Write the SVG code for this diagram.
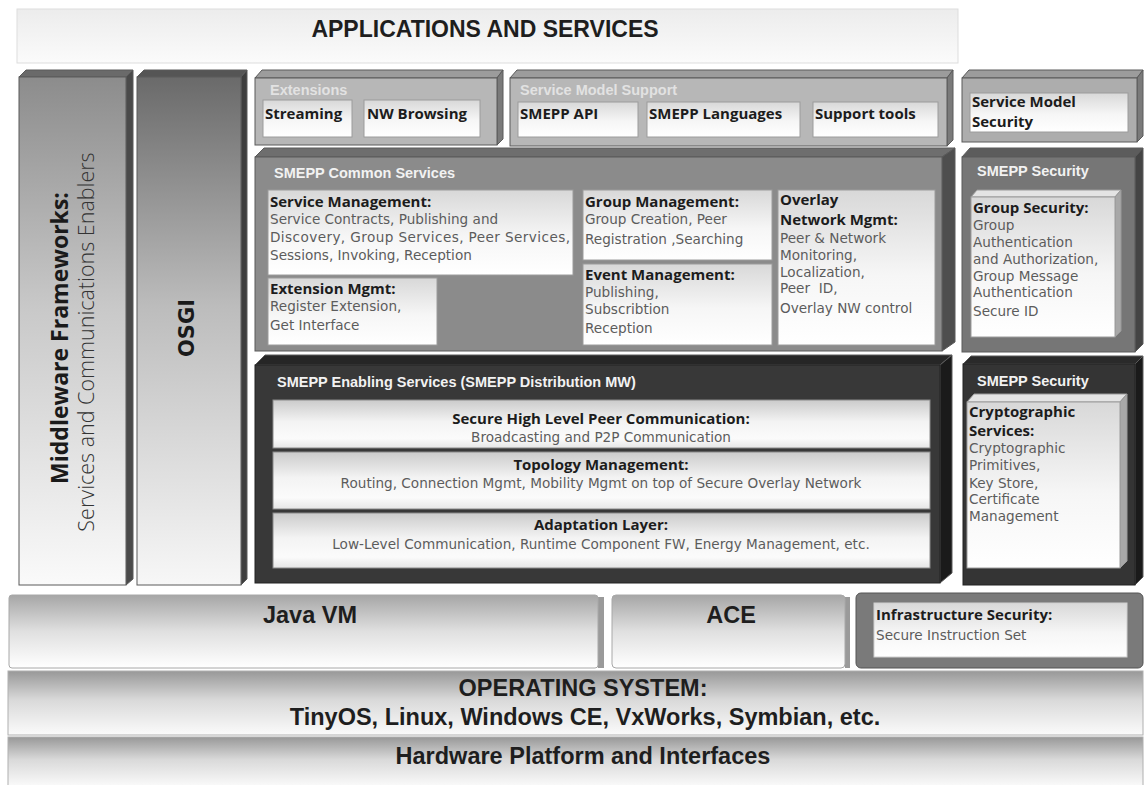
<svg xmlns="http://www.w3.org/2000/svg" width="1145" height="785" viewBox="0 0 1145 785">
<defs>
<linearGradient id="gApp" x1="0" y1="0" x2="0" y2="1"><stop offset="0" stop-color="#ececec"/><stop offset="1" stop-color="#fbfbfb"/></linearGradient>
<linearGradient id="gMid" x1="0" y1="0" x2="0" y2="1"><stop offset="0" stop-color="#8c8c8c"/><stop offset="0.45" stop-color="#c8c8c8"/><stop offset="1" stop-color="#fafafa"/></linearGradient>
<linearGradient id="gOsgi" x1="0" y1="0" x2="0" y2="1"><stop offset="0" stop-color="#6a6a6a"/><stop offset="0.45" stop-color="#bcbcbc"/><stop offset="1" stop-color="#f7f7f7"/></linearGradient>
<linearGradient id="gInner" x1="0" y1="0" x2="0" y2="1"><stop offset="0" stop-color="#d8d8d8"/><stop offset="0.55" stop-color="#f6f6f6"/><stop offset="1" stop-color="#ffffff"/></linearGradient>
<linearGradient id="gBar" x1="0" y1="0" x2="0" y2="1"><stop offset="0" stop-color="#cbcbcb"/><stop offset="0.45" stop-color="#f3f3f3"/><stop offset="0.8" stop-color="#fbfbfb"/><stop offset="1" stop-color="#e6e6e6"/></linearGradient>
<linearGradient id="gBase" x1="0" y1="0" x2="0" y2="1"><stop offset="0" stop-color="#a6a6a6"/><stop offset="0.5" stop-color="#e0e0e0"/><stop offset="1" stop-color="#ffffff"/></linearGradient>
<linearGradient id="gOS" x1="0" y1="0" x2="0" y2="1"><stop offset="0" stop-color="#989898"/><stop offset="0.45" stop-color="#d9d9d9"/><stop offset="1" stop-color="#fbfbfb"/></linearGradient>
</defs>
<style>
.edge{stroke:#5a5a5a;stroke-width:1}
.ledge{stroke:#9a9a9a;stroke-width:1}
.wt{font-family:"Liberation Sans",Arial,sans-serif;font-weight:700;font-size:14.5px;fill:#f2f2f2}
.lt{font-family:"Liberation Sans",Arial,sans-serif;font-weight:700;font-size:14.5px;fill:#e2e2e2}
.ti{font-family:"Open Sans","DejaVu Sans",sans-serif;font-weight:700;font-size:15px;fill:#1c1c1c}
.ds{font-family:"DejaVu Sans",sans-serif;font-size:13.6px;fill:#5c5c5c}
.big{font-family:"Liberation Sans",Arial,sans-serif;font-weight:700;font-size:23.5px;fill:#1e1e1e}
.ctr{text-anchor:middle}
.inner{fill:url(#gInner);stroke:#9c9c9c;stroke-width:1}
.bar{fill:url(#gBar);stroke:#8a8a8a;stroke-width:1}
</style>

<rect width="1145" height="785" fill="#ffffff"/>

<g id="applications">
<rect x="17" y="9" width="941" height="54" fill="url(#gApp)" stroke="#dddddd"/>
<text class="big ctr" x="485" y="37" style="font-size:23px">APPLICATIONS AND SERVICES</text>
</g>

<g id="middleware">
<polygon points="19,77 26,70 133,70 126,77" fill="#6a6a6a" class="edge"/>
<polygon points="126,77 133,70 133,579 126,585" fill="#4a4a4a" class="edge"/>
<rect x="19" y="77" width="107" height="508" fill="url(#gMid)" class="edge"/>
<text transform="translate(68,338) rotate(-90)" class="ctr" font-family="Open Sans, DejaVu Sans, sans-serif" font-weight="700" font-size="23px" fill="#1a1a1a">Middleware Frameworks:</text>
<text transform="translate(94,342) rotate(-90)" class="ctr" font-family="Open Sans, DejaVu Sans, sans-serif" font-weight="300" font-size="21.5px" fill="#333333">Services and Communications Enablers</text>
</g>

<g id="osgi">
<polygon points="137,77 144,70 247,70 241,77" fill="#555555" class="edge"/>
<polygon points="241,77 247,70 247,579 241,585" fill="#3e3e3e" class="edge"/>
<rect x="137" y="77" width="104" height="508" fill="url(#gOsgi)" class="edge"/>
<text transform="translate(194,328) rotate(-90)" class="ctr" font-family="DejaVu Sans, sans-serif" font-weight="700" font-size="21px" fill="#1a1a1a">OSGI</text>
</g>

<g id="extensions">
<polygon points="255,78 262,70 503,70 497,78" fill="#9c9c9c" class="edge"/>
<polygon points="497,78 503,70 503,139 497,145" fill="#7a7a7a" class="edge"/>
<rect x="255" y="78" width="242" height="67" fill="#b7b7b7" class="edge"/>
<text class="lt" x="270" y="95">Extensions</text>
<rect x="263" y="100" width="89" height="37" class="inner"/>
<text class="ti" x="265" y="119">Streaming</text>
<rect x="364" y="100" width="116" height="37" class="inner"/>
<text class="ti" x="367" y="119">NW Browsing</text>
</g>

<g id="service-model-support">
<polygon points="510,78 517,70 953,70 947,78" fill="#9c9c9c" class="edge"/>
<polygon points="947,78 953,70 953,140 947,146" fill="#7a7a7a" class="edge"/>
<rect x="510" y="78" width="437" height="68" fill="#b7b7b7" class="edge"/>
<text class="lt" x="520" y="95">Service Model Support</text>
<rect x="518" y="102" width="120" height="35" class="inner"/>
<text class="ti" x="520" y="119">SMEPP API</text>
<rect x="647" y="102" width="153" height="35" class="inner"/>
<text class="ti" x="649" y="119">SMEPP Languages</text>
<rect x="813" y="102" width="125" height="35" class="inner"/>
<text class="ti" x="815" y="119">Support tools</text>
</g>

<g id="service-model-security">
<polygon points="962,78 969,70 1143,70 1137,78" fill="#9c9c9c" class="edge"/>
<polygon points="1137,78 1143,70 1143,136 1137,142" fill="#7a7a7a" class="edge"/>
<rect x="962" y="78" width="175" height="64" fill="#adadad" class="edge"/>
<rect x="970" y="93" width="158" height="39" class="inner" stroke="none"/>
<text class="ti" x="972" y="107">Service Model</text>
<text class="ti" x="972" y="127">Security</text>
</g>

<g id="common-services">
<polygon points="255,157 264,148 955,148 942,157" fill="#6e6e6e" class="edge"/>
<polygon points="942,157 955,148 955,342 942,351" fill="#4e4e4e" class="edge"/>
<rect x="255" y="157" width="687" height="194" fill="#8b8b8b" class="edge"/>
<text class="wt" x="274" y="178">SMEPP Common Services</text>
</g>

<g id="service-management">
<rect x="268" y="190" width="305" height="85" class="inner"/>
<text class="ti" x="270" y="207">Service Management:</text>
<text class="ds" x="270" y="224">Service Contracts, Publishing and</text>
<text class="ds" x="270" y="242" textLength="300" lengthAdjust="spacing">Discovery, Group Services, Peer Services,</text>
<text class="ds" x="270" y="260">Sessions, Invoking, Reception</text>
</g>

<g id="extension-mgmt">
<rect x="268" y="278" width="169" height="67" class="inner"/>
<text class="ti" x="270" y="294">Extension Mgmt:</text>
<text class="ds" x="270" y="311">Register Extension,</text>
<text class="ds" x="270" y="330">Get Interface</text>
</g>

<g id="group-management">
<rect x="583" y="190" width="189" height="70" class="inner"/>
<text class="ti" x="585" y="207">Group Management:</text>
<text class="ds" x="585" y="224">Group Creation, Peer</text>
<text class="ds" x="585" y="244">Registration ,Searching</text>
</g>

<g id="event-management">
<rect x="583" y="264" width="189" height="81" class="inner"/>
<text class="ti" x="585" y="280">Event Management:</text>
<text class="ds" x="585" y="297">Publishing,</text>
<text class="ds" x="585" y="314">Subscribtion</text>
<text class="ds" x="585" y="333">Reception</text>
</g>

<g id="overlay-network-mgmt">
<rect x="778" y="190" width="157" height="155" class="inner"/>
<text class="ti" x="780" y="205">Overlay</text>
<text class="ti" x="780" y="225">Network Mgmt:</text>
<text class="ds" x="780" y="243">Peer &amp; Network</text>
<text class="ds" x="780" y="260">Monitoring,</text>
<text class="ds" x="780" y="277">Localization,</text>
<text class="ds" x="780" y="293" xml:space="preserve">Peer  ID,</text>
<text class="ds" x="780" y="313">Overlay NW control</text>
</g>

<g id="smepp-security-groups">
<polygon points="962,157 970,148 1143,148 1135,157" fill="#5c5c5c" class="edge"/>
<polygon points="1135,157 1143,148 1143,344 1135,352" fill="#444444" class="edge"/>
<rect x="962" y="157" width="173" height="195" fill="#767676" class="edge"/>
<text class="wt" x="977" y="176">SMEPP Security</text>
<polygon points="971,197 977,190 1121,190 1115,197" fill="#e4e4e4" class="ledge"/>
<polygon points="1115,197 1121,190 1121,331 1115,337" fill="#a8a8a8" class="ledge"/>
<rect x="971" y="197" width="144" height="140" class="inner"/>
<text class="ti" x="973" y="213">Group Security:</text>
<text class="ds" x="973" y="230">Group</text>
<text class="ds" x="973" y="247">Authentication</text>
<text class="ds" x="973" y="264">and Authorization,</text>
<text class="ds" x="973" y="281">Group Message</text>
<text class="ds" x="973" y="297">Authentication</text>
<text class="ds" x="973" y="316">Secure ID</text>
</g>

<g id="enabling-services">
<polygon points="255,365 265,355 952,355 940,365" fill="#262626" class="edge"/>
<polygon points="940,365 952,355 952,573 940,583" fill="#1a1a1a" class="edge"/>
<rect x="255" y="365" width="685" height="218" fill="#383838" stroke="#222"/>
<text class="wt" x="277" y="387">SMEPP Enabling Services (SMEPP Distribution MW)</text>
</g>

<g id="secure-peer-communication">
<rect x="273" y="400" width="657" height="48" class="bar"/>
<text class="ti ctr" x="601" y="424">Secure High Level Peer Communication:</text>
<text class="ds ctr" x="601" y="442">Broadcasting and P2P Communication</text>
</g>

<g id="topology-management">
<rect x="273" y="452" width="657" height="57" class="bar"/>
<text class="ti ctr" x="601" y="470">Topology Management:</text>
<text class="ds ctr" x="601" y="488">Routing, Connection Mgmt, Mobility Mgmt on top of Secure Overlay Network</text>
</g>

<g id="adaptation-layer">
<rect x="273" y="513" width="657" height="55" class="bar"/>
<text class="ti ctr" x="601" y="530">Adaptation Layer:</text>
<text class="ds ctr" x="601" y="549">Low-Level Communication, Runtime Component FW, Energy Management, etc.</text>
</g>

<g id="smepp-security-crypto">
<polygon points="963,364 971,356 1143,356 1135,364" fill="#2a2a2a" class="edge"/>
<polygon points="1135,364 1143,356 1143,577 1135,585" fill="#1a1a1a" class="edge"/>
<rect x="963" y="364" width="172" height="221" fill="#343434" stroke="#222"/>
<text class="wt" x="977" y="386">SMEPP Security</text>
<polygon points="967,402 974,394 1127,394 1120,402" fill="#e4e4e4" class="ledge"/>
<polygon points="1120,402 1127,394 1127,561 1120,568" fill="#a8a8a8" class="ledge"/>
<rect x="967" y="402" width="153" height="166" class="inner"/>
<text class="ti" x="969" y="417">Cryptographic</text>
<text class="ti" x="969" y="436">Services:</text>
<text class="ds" x="969" y="453">Cryptographic</text>
<text class="ds" x="969" y="470">Primitives,</text>
<text class="ds" x="969" y="488">Key Store,</text>
<text class="ds" x="969" y="504">Certificate</text>
<text class="ds" x="969" y="521">Management</text>
</g>

<g id="java-vm">
<rect x="598" y="597" width="6" height="71" fill="#9a9a9a"/>
<rect x="9" y="595" width="589" height="73" rx="3" fill="url(#gBase)" stroke="#a8a8a8"/>
<text class="big ctr" x="310" y="623">Java VM</text>
</g>

<g id="ace">
<rect x="845" y="597" width="5" height="71" fill="#9a9a9a"/>
<rect x="612" y="595" width="233" height="73" rx="4" fill="url(#gBase)" stroke="#a8a8a8"/>
<text class="big ctr" x="731" y="623">ACE</text>
</g>

<g id="infrastructure-security">
<rect x="856" y="593" width="287" height="75" rx="5" fill="#7a7a7a" stroke="#555555"/>
<rect x="874" y="603" width="253" height="54" fill="url(#gInner)" stroke="#cfcfcf"/>
<text class="ti" x="876" y="620">Infrastructure Security:</text>
<text class="ds" x="876" y="640">Secure Instruction Set</text>
</g>

<g id="operating-system">
<rect x="8" y="671" width="1135" height="64" fill="url(#gOS)" stroke="#b0b0b0"/>
<text class="big ctr" x="583" y="696">OPERATING SYSTEM:</text>
<text class="big ctr" x="585" y="725">TinyOS, Linux, Windows CE, VxWorks, Symbian, etc.</text>
</g>

<g id="hardware-platform">
<rect x="8" y="737" width="1135" height="50" fill="url(#gOS)" stroke="#b0b0b0"/>
<text class="big ctr" x="583" y="764">Hardware Platform and Interfaces</text>
</g>

<g id="connectors"></g>
</svg>
